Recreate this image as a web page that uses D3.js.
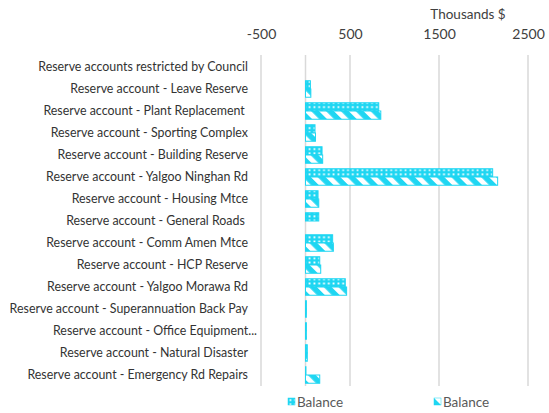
<!DOCTYPE html>
<html>
<head>
<meta charset="utf-8">
<script src="https://cdn.jsdelivr.net/npm/d3@7"></script>
<style>
  html, body { margin: 0; padding: 0; background: #fff; }
  svg { display: block; }
  text { font-family: Lato, "Open Sans", sans-serif; fill: #404040; }
</style>
</head>
<body>
<svg id="chart" width="549" height="413"></svg>
<script>
// Reserve account balances (thousands of dollars)
const categories = [
  "Reserve accounts restricted by Council",
  "Reserve account - Leave Reserve",
  "Reserve account - Plant Replacement ",
  "Reserve account - Sporting Complex",
  "Reserve account - Building Reserve",
  "Reserve account - Yalgoo Ninghan Rd",
  "Reserve account - Housing Mtce",
  "Reserve account - General Roads ",
  "Reserve account - Comm Amen Mtce",
  "Reserve account - HCP Reserve",
  "Reserve account - Yalgoo Morawa Rd",
  "Reserve account - Superannuation Back Pay",
  "Reserve account - Office Equipment...",
  "Reserve account - Natural Disaster",
  "Reserve account - Emergency Rd Repairs"
];
const balanceA = [null, 55, 823, 107, 186, 2103, 141, 149, 305, 160, 447, 10, 10, 20, 5];
const balanceB = [null, 60, 846, 112, 193, 2159, 149, null, 313, 171, 462, 10, 10, 20, 160];
const seriesNames = ["Balance", "Balance"];
const tickValues = [-500, 500, 1500, 2500];
const axisTitle = "Thousands $";

const cyan = "#1fd6f2";
const svg = d3.select("#chart");

// Fill patterns: small grid of white squares, and wide diagonal stripes
const defs = svg.append("defs");
const dots = defs.append("pattern")
  .attr("id", "dots").attr("patternUnits", "userSpaceOnUse")
  .attr("width", 4.8).attr("height", 4.2);
dots.append("rect").attr("width", 4.8).attr("height", 4.2).attr("fill", cyan);
dots.append("rect").attr("x", 1.5).attr("y", 1.2).attr("width", 1.8).attr("height", 1.8).attr("fill", "#fff");

const stripes = defs.append("pattern")
  .attr("id", "stripes").attr("patternUnits", "userSpaceOnUse")
  .attr("width", 10.5).attr("height", 10.5)
  .attr("patternTransform", "rotate(-45)");
stripes.append("rect").attr("width", 10.5).attr("height", 10.5).attr("fill", cyan);
stripes.append("rect").attr("x", 0).attr("width", 5).attr("height", 10.5).attr("fill", "#fff");

const fills = ["url(#dots)", "url(#stripes)"];
const seriesData = [balanceA, balanceB];

const x = d3.scaleLinear().domain([-500, 2500]).range([261, 528]);
const y = d3.scaleBand().domain(categories).range([56, 386])
  .paddingInner(0.25).paddingOuter(0.125);
const sub = d3.scaleBand().domain([0, 1]).range([0, y.bandwidth()]);

// Vertical gridlines and zero line
const gridVals = tickValues.concat([0]);
svg.append("g").selectAll("line").data(gridVals).join("line")
  .attr("x1", d => x(d)).attr("x2", d => x(d))
  .attr("y1", 55).attr("y2", 386)
  .attr("stroke", "#d9d9d9").attr("stroke-width", 1.5);

// Top value axis labels
const axis = d3.axisTop(x).tickValues(tickValues).tickFormat(d => String(d)).tickSize(0).tickPadding(0);
const gAxis = svg.append("g").attr("transform", "translate(0,39)").call(axis);
gAxis.select(".domain").remove();
gAxis.selectAll("text").style("font-size", "14px").style("fill", "#404040")
  .style("font-family", "Lato, 'Open Sans', sans-serif");

svg.append("text").attr("x", 468).attr("y", 19).attr("text-anchor", "middle")
  .style("font-size", "13.5px").text(axisTitle);

// Category axis labels
const gCat = svg.append("g").attr("transform", "translate(248,0)")
  .call(d3.axisLeft(y).tickSize(0).tickPadding(0));
gCat.select(".domain").remove();
gCat.selectAll("text")
  .style("font-size", "12.4px").style("fill", "#333")
  .style("font-family", "Lato, 'Open Sans', sans-serif")
  .style("white-space", "pre")
  .attr("dx", d => d.endsWith("...") ? 9 : 0);

// Bars
seriesData.forEach((vals, si) => {
  svg.append("g").selectAll("rect")
    .data(categories.map((c, i) => ({ c, v: vals[i] })).filter(d => d.v != null))
    .join("rect")
    .attr("x", d => x(Math.min(0, d.v)))
    .attr("width", d => Math.abs(x(d.v) - x(0)))
    .attr("y", d => y(d.c) + sub(si))
    .attr("height", sub.bandwidth())
    .attr("fill", fills[si])
    .attr("stroke", cyan).attr("stroke-width", 1);
});

// Legend
const legendX = [288, 434];
seriesNames.forEach((name, i) => {
  const g = svg.append("g").attr("transform", `translate(${legendX[i]},398)`);
  g.append("rect").attr("width", 7).attr("height", 7).attr("fill", fills[i])
    .attr("stroke", cyan).attr("stroke-width", 0.5);
  g.append("text").attr("x", 9).attr("y", 8.5).style("font-size", "13.5px")
    .style("fill", "#595959").text(name);
});
</script>
</body>
</html>
